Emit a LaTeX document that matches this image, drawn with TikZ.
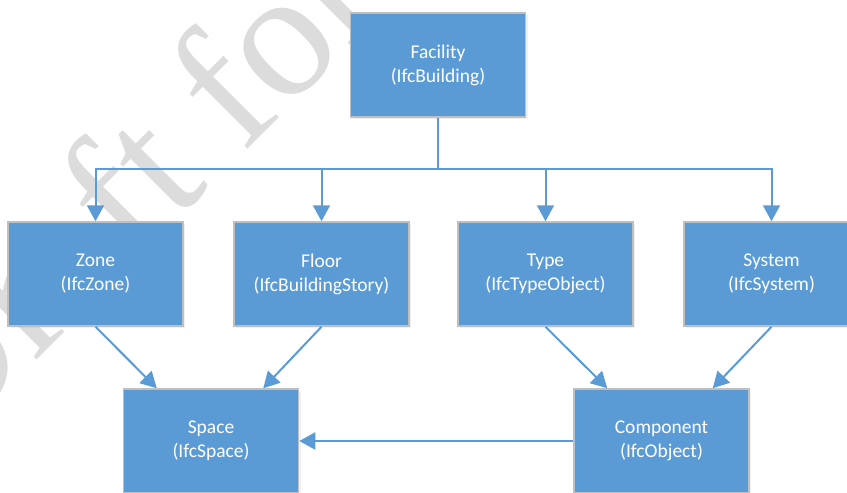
\documentclass[tikz,border=0pt]{standalone}
\usepackage{fontspec}
\setmainfont{Carlito}
\newfontfamily\wmfont{Liberation Serif}
\usetikzlibrary{arrows.meta,calc,shadows}
\definecolor{boxblue}{HTML}{5B9BD5}
\definecolor{boxedge}{HTML}{BFBFBF}
\definecolor{wmgray}{HTML}{DCDCDC}
\tikzset{
  entity/.style={draw=boxedge, line width=1.5pt, fill=boxblue, minimum width=175pt, minimum height=104pt,
    inner sep=0pt, align=center, text=white, font=\fontsize{19.5}{24}\selectfont,
    drop shadow={opacity=0.12, shadow xshift=2pt, shadow yshift=-2pt}},
  link/.style={draw=boxblue, line width=2pt, -{Triangle[length=16pt,width=17pt]}},
  plainlink/.style={draw=boxblue, line width=2pt}
}
\begin{document}
\begin{tikzpicture}[x=1pt,y=-1pt]
\useasboundingbox (0,0) rectangle (847,493);
\clip (0,0) rectangle (847,493);
% watermark
\node[anchor=base west, rotate=45, inner sep=0pt, text=wmgray, font=\wmfont\fontsize{180}{180}\selectfont] (wm) at (-58,455) {Draft for};
% boxes
\node[entity] (fac) at (438,65) {Facility\\(IfcBuilding)};
\node[entity] (zone) at (95.5,274) {Zone\\(IfcZone)};
\node[entity] (floor) at (321.5,274) {Floor\\(IfcBuildingStory)};
\node[entity] (type) at (545.5,274) {Type\\(IfcTypeObject)};
\node[entity] (sys) at (771.5,274) {System\\(IfcSystem)};
\node[entity] (space) at (211,441) {Space\\(IfcSpace)};
\node[entity] (comp) at (661.5,441) {Component\\(IfcObject)};
% tree connectors
\coordinate (hub) at (438,169);
\draw[plainlink] (fac.south) -- (hub);
\draw[link] (hub) -| (zone.north);
\draw[link] (hub) -| (floor.north);
\draw[link] (hub) -| (type.north);
\draw[link] (hub) -| (sys.north);
% diagonal connectors
\draw[link] (zone.south) -- ($(space.north west)+(34,0)$);
\draw[link] (floor.south) -- ($(space.north east)+(-36,0)$);
\draw[link] (type.south) -- ($(comp.north west)+(34,0)$);
\draw[link] (sys.south) -- ($(comp.north east)+(-37,0)$);
\draw[link] (comp.west) -- (space.east);
\end{tikzpicture}
\end{document}
